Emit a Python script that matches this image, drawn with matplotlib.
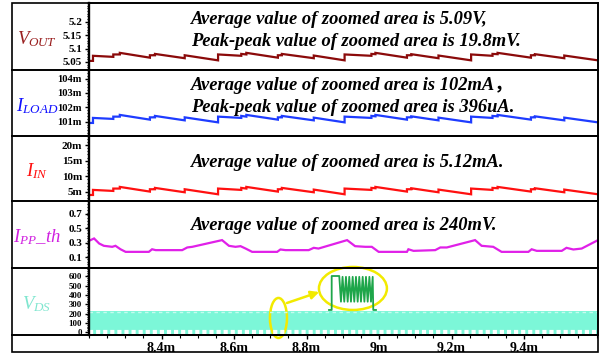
import matplotlib
matplotlib.use('Agg')
import matplotlib.pyplot as plt
from matplotlib.patches import Ellipse, Rectangle
from matplotlib.lines import Line2D
from matplotlib.ticker import FixedLocator, MultipleLocator

plt.rcParams['font.family'] = ['Liberation Serif', 'Noto Sans CJK SC']
plt.rcParams['mathtext.fontset'] = 'custom'
plt.rcParams['mathtext.it'] = 'Liberation Serif:italic'
plt.rcParams['mathtext.rm'] = 'Liberation Serif'
plt.rcParams['mathtext.bf'] = 'Liberation Serif:bold'

# ---- waveform data (time in ms) ----
# VOUT / ILOAD / IIN share the same sawtooth breakpoints
saw_t = [8.200, 8.211, 8.211, 8.267, 8.267, 8.285, 8.285, 8.368, 8.368, 8.382,
         8.382, 8.464, 8.464, 8.556, 8.556, 8.620, 8.620, 8.634, 8.634, 8.721,
         8.721, 8.732, 8.732, 8.820, 8.820, 8.905, 8.905, 8.979, 8.979, 8.990,
         8.990, 9.077, 9.077, 9.089, 9.089, 9.164, 9.164, 9.254, 9.254, 9.313,
         9.313, 9.327, 9.327, 9.419, 9.419, 9.430, 9.430, 9.511, 9.511, 9.604]

vout = [5.054, 5.054, 5.073, 5.069, 5.078, 5.078, 5.084, 5.066, 5.075, 5.075,
        5.080, 5.064, 5.075, 5.056, 5.078, 5.073, 5.080, 5.078, 5.084, 5.066,
        5.075, 5.075, 5.080, 5.064, 5.074, 5.056, 5.078, 5.073, 5.080, 5.079,
        5.084, 5.066, 5.075, 5.075, 5.079, 5.064, 5.074, 5.056, 5.078, 5.073,
        5.080, 5.079, 5.084, 5.066, 5.075, 5.075, 5.079, 5.064, 5.074, 5.056]

iload = [100.91, 100.91, 101.26, 101.19, 101.35, 101.35, 101.47, 101.14, 101.30, 101.30,
         101.40, 101.09, 101.30, 100.95, 101.35, 101.26, 101.40, 101.35, 101.47, 101.14,
         101.30, 101.30, 101.40, 101.09, 101.28, 100.95, 101.35, 101.26, 101.40, 101.37,
         101.47, 101.14, 101.30, 101.30, 101.37, 101.09, 101.28, 100.95, 101.35, 101.26,
         101.40, 101.37, 101.47, 101.14, 101.30, 101.30, 101.37, 101.09, 101.28, 100.95]

iin = [4.03, 4.03, 5.65, 5.32, 6.08, 6.08, 6.61, 5.11, 5.86, 5.86,
       6.29, 4.89, 5.86, 4.25, 6.08, 5.65, 6.29, 6.08, 6.61, 5.11,
       5.86, 5.86, 6.29, 4.89, 5.75, 4.25, 6.08, 5.65, 6.29, 6.18,
       6.61, 5.11, 5.86, 5.86, 6.18, 4.89, 5.75, 4.25, 6.08, 5.65,
       6.29, 6.18, 6.61, 5.11, 5.86, 5.86, 6.18, 4.89, 5.75, 4.25]

ipp_t = [8.200, 8.214, 8.228, 8.241, 8.264, 8.273, 8.287, 8.301, 8.365, 8.374,
         8.384, 8.457, 8.471, 8.485, 8.567, 8.586, 8.604, 8.618, 8.632, 8.650,
         8.719, 8.728, 8.742, 8.806, 8.820, 8.833, 8.912, 8.934, 8.962, 8.980,
         8.999, 9.077, 9.081, 9.095, 9.155, 9.169, 9.187, 9.265, 9.283, 9.315,
         9.338, 9.412, 9.421, 9.435, 9.504, 9.517, 9.536, 9.559, 9.604]
ipp = [0.327, 0.360, 0.290, 0.258, 0.244, 0.258, 0.210, 0.174, 0.174, 0.210,
       0.198, 0.198, 0.235, 0.244, 0.337, 0.258, 0.244, 0.253, 0.220, 0.174,
       0.174, 0.207, 0.198, 0.198, 0.230, 0.220, 0.337, 0.253, 0.244, 0.244,
       0.174, 0.174, 0.210, 0.188, 0.198, 0.235, 0.235, 0.337, 0.258, 0.244,
       0.174, 0.174, 0.210, 0.188, 0.188, 0.230, 0.207, 0.220, 0.337]

# VDS switching band envelope (V)
vds_t = [8.200, 9.604]
vds_low = [-20, -20]
vds_high = [225, 225]

# one switching event shown enlarged
burst_t = [8.862, 8.8694, 8.8694, 8.8903, 8.8950, 8.8994, 8.9041, 8.9088, 8.9135,
           8.9179, 8.9226, 8.9273, 8.9317, 8.9364, 8.9411, 8.9455, 8.9502, 8.9549,
           8.9596, 8.9640, 8.9687, 8.9734, 8.9778, 8.9825, 8.9841, 8.9916]
burst_v = [239, 239, 604, 604, 328, 595, 328, 595, 328,
           595, 328, 595, 328, 595, 328, 595, 328, 595,
           328, 595, 328, 595, 328, 595, 239, 239]

time_ticks = [8.4, 8.6, 8.8, 9.0, 9.2, 9.4]
time_labels = ['8.4m', '8.6m', '8.8m', '9m', '9.2m', '9.4m']

W, H = 601, 356
fig = plt.figure(figsize=(W / 100, H / 100), dpi=100)
rows = [(3, 70), (70, 136), (136, 201), (201, 268), (268, 335)]
X0, X1 = 89, 598

panels = [
    dict(name=r'$V_{OUT}$', color='#8b0a0a', lc='#9a2020', ylim=(5.02, 5.27),
         ticks=[5.05, 5.1, 5.15, 5.2], labels=['5.05', '5.1', '5.15', '5.2'], minor=0.01,
         fs=8, x=saw_t, y=vout),
    dict(name=r'$I_{LOAD}$', color='#1e3cff', lc='#1010ff', ylim=(100.0, 104.6),
         ticks=[101, 102, 103, 104], labels=['101m', '102m', '103m', '104m'], minor=0.2,
         fs=7.6, x=saw_t, y=iload),
    dict(name=r'$I_{IN}$', color='#ff1010', lc='#ff1010', ylim=(2.1, 22.9),
         ticks=[5, 10, 15, 20], labels=['5m', '10m', '15m', '20m'], minor=1,
         fs=8, x=saw_t, y=iin),
    dict(name=r'$I_{PP}\_th$', color='#e020e8', lc='#d020e0', ylim=(-0.05, 0.88),
         ticks=[0.1, 0.3, 0.5, 0.7], labels=['0.1', '0.3', '0.5', '0.7'], minor=0.04,
         fs=8, x=ipp_t, y=ipp),
    dict(name=r'$V_{DS}$', color='#7cf7d8', lc='#7fe6cf', ylim=(-30, 690),
         ticks=[0, 100, 200, 300, 400, 500, 600],
         labels=['0', '100', '200', '300', '400', '500', '600'], minor=20,
         fs=6.3, x=None, y=None),
]

axes = []
for (top, bot), p in zip(rows, panels):
    ax = fig.add_axes([X0 / W, 1 - bot / H, (X1 - X0) / W, (bot - top) / H])
    ax.set_xlim(8.2, 9.604)
    ax.set_ylim(*p['ylim'])
    if p['y'] is not None:
        ax.plot(p['x'], p['y'], color=p['color'], lw=1.6, solid_joinstyle='miter')
    ax.yaxis.set_major_locator(FixedLocator(p['ticks']))
    ax.set_yticklabels(p['labels'], fontweight='bold', fontsize=p['fs'])
    ax.yaxis.set_minor_locator(MultipleLocator(p['minor']))
    ax.tick_params(axis='y', which='major', direction='out', length=3, width=1, pad=2)
    ax.tick_params(axis='y', which='minor', direction='out', length=1.5, width=0.8)
    ax.tick_params(axis='x', which='both', bottom=False, labelbottom=False)
    for s in ax.spines.values():
        s.set_linewidth(1.2)
    ax.spines['left'].set_linewidth(1.7)
    fig.text(37 / W, 1 - ((top + bot) / 2 + 3) / H, p['name'], color=p['lc'],
             fontsize=13.5, ha='center', va='center')
    axes.append(ax)

# VDS: dense switching drawn as a band with the off-state notches along the bottom
ax_vds = axes[-1]
ax_vds.fill_between(vds_t, vds_low, vds_high, color='#7cf7d8', lw=0)
ax_vds.plot(vds_t, [v + 25 for v in vds_low], color='white', lw=3.0,
            dashes=(1.0, 0.7), dash_capstyle='butt')
ax_vds.plot(vds_t, [v - 8 for v in vds_high], color='#c4fcee', lw=1.0,
            dashes=(2.5, 2.5), dash_capstyle='butt')
ax_vds.plot(burst_t, burst_v, color='#1ea64a', lw=1.3, clip_on=False)
ax_vds.add_patch(Ellipse((8.7226, 153), 0.047, 430, fill=False, ec='#f2ea00',
                         lw=1.8, clip_on=False))
ax_vds.add_patch(Ellipse((8.928, 470), 0.1875, 462, fill=False, ec='#f2ea00',
                         lw=1.8, clip_on=False))
ax_vds.annotate('', xy=(8.835, 432), xytext=(8.746, 314),
                arrowprops=dict(arrowstyle='-|>', color='#f2ea00', lw=1.8,
                                mutation_scale=12, shrinkA=0, shrinkB=0))
ax_vds.tick_params(axis='x', which='both', bottom=True, labelbottom=True,
                   direction='out')
ax_vds.xaxis.set_major_locator(FixedLocator(time_ticks))
ax_vds.set_xticklabels(time_labels, fontweight='bold', fontsize=10)
ax_vds.xaxis.set_minor_locator(MultipleLocator(0.05))
ax_vds.tick_params(axis='x', which='major', length=3, width=1, pad=2)
ax_vds.tick_params(axis='x', which='minor', length=2, width=0.8)

# annotation texts
notes = [
    (20, 'Average value of zoomed area is 5.09V,'),
    (41, 'Peak-peak value of zoomed area is 19.8mV.'),
    (85, 'Average value of zoomed area is 102mA，'),
    (107, 'Peak-peak value of zoomed area is 396uA.'),
    (163, 'Average value of zoomed area is 5.12mA.'),
    (225, 'Average value of zoomed area is 240mV.'),
]
for y, s in notes:
    fig.text(191 / W, 1 - y / H, s, fontsize=13.3, fontweight='bold', style='italic',
             ha='left', va='center')

# outer frame and row separators
ov = fig.add_axes([0, 0, 1, 1], zorder=10)
ov.set_xlim(0, W)
ov.set_ylim(H, 0)
ov.axis('off')
ov.add_patch(Rectangle((12, 3), 586, 349, fill=False, ec='black', lw=1.2))
for top, bot in rows:
    ov.add_line(Line2D([12, 598], [bot, bot], color='black', lw=1.4))

fig.savefig('out.png', dpi=100)
